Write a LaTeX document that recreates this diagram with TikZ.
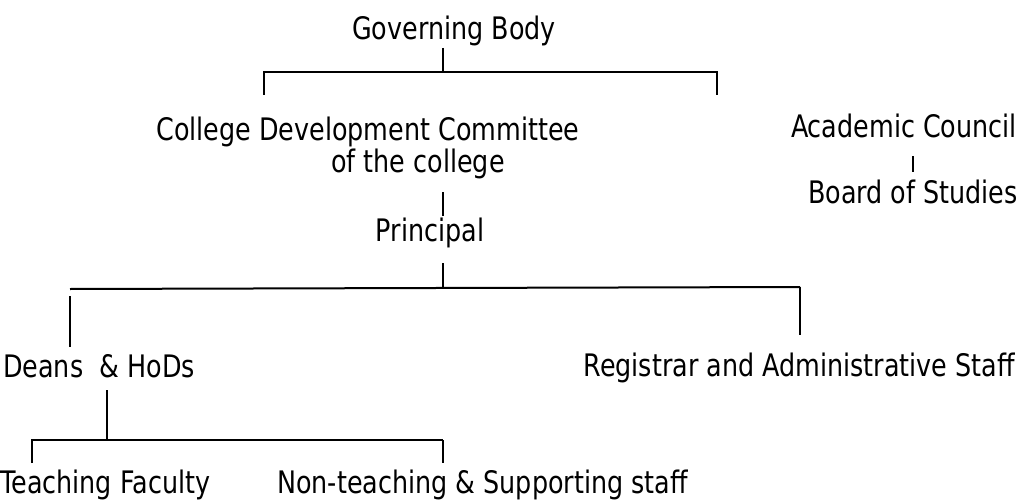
\documentclass[tikz,border=0pt]{standalone}
\usepackage{fontspec}
\setmainfont[FakeStretch=0.82]{DejaVu Sans}
\begin{document}
\begin{tikzpicture}[x=1pt,y=-1pt,
  lbl/.style={inner sep=0pt,font=\fontsize{31}{35}\selectfont},
  thin/.style={line width=1.4pt},
  thick/.style={line width=2.6pt}]
\useasboundingbox (0,0) rectangle (1022,500);
% texts
\node[lbl,anchor=base] (gb) at (454,40) {Governing Body};
\node[lbl,anchor=base] (cdc) at (368,140) {College Development Committee};
\node[lbl,anchor=base] (cdc2) at (418,172) {of the college};
\node[lbl,anchor=base east] (ac) at (1017,138) {Academic Council};
\node[lbl,anchor=base east] (bos) at (1018,203) {Board of Studies};
\node[lbl,anchor=base] (pr) at (430,241) {Principal};
\node[lbl,anchor=base west] (deans) at (3,377) {Deans\ \ \& HoDs};
\node[lbl,anchor=base east] (reg) at (1015,376) {Registrar and Administrative Staff};
\node[lbl,anchor=base west] (tf) at (0,493) {Teaching Faculty};
\node[lbl,anchor=base west] (nt) at (277,493) {Non-teaching \& Supporting staff};
% junction coordinates
\coordinate (g1) at (443,48);
\coordinate (g2) at (443,72);
\coordinate (tl) at (264,72);
\coordinate (tr) at (717,72);
\coordinate (tld) at (264,95);
\coordinate (trd) at (717,95);
\coordinate (a1) at (913,156);
\coordinate (a2) at (913,172);
\coordinate (c1) at (443,192);
\coordinate (c2) at (443,216);
\coordinate (p1) at (443,263);
\coordinate (p2) at (443,288);
\coordinate (ml) at (70,289);
\coordinate (mr) at (800,287);
\coordinate (mld1) at (70,296);
\coordinate (mld2) at (70,347);
\coordinate (mrd) at (800,335);
\coordinate (d1) at (107,390);
\coordinate (d2) at (107,439);
\coordinate (bl) at (32,440);
\coordinate (br) at (443,440);
\coordinate (bld) at (32,463);
\coordinate (brd) at (443,463);
% connectors
\draw[thin] (g1) -- (g2);
\draw[thin] (tld) -- (tl) -- (tr) -- (trd);
\draw[thick] (a1) -- (a2);
\draw[thick] (c1) -- (c2);
\draw[thick] (p1) -- (p2);
\draw[line width=2pt] (ml) -- (mr);
\draw[thick] (mld1) -- (mld2);
\draw[thin] (mr) -- (mrd);
\draw[thick] (d1) -- (d2);
\draw[thin] (bld) -- (bl) -- (br);
\draw[thick] (br) -- (brd);
\end{tikzpicture}
\end{document}
